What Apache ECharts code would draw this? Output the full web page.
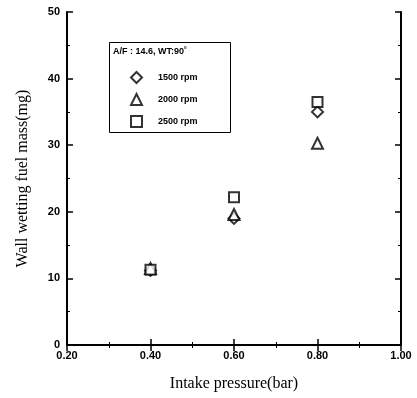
<!DOCTYPE html>
<html><head><meta charset="utf-8">
<script src="https://cdn.jsdelivr.net/npm/echarts@6/dist/echarts.min.js"></script>
<style>html,body{margin:0;padding:0;background:#fff}#c{width:417px;height:398px}</style>
</head><body><div id="c"></div>
<script>
const pressures = [0.40, 0.60, 0.80];
const rpm1500 = [11.2, 19.0, 35.0];
const rpm2000 = [11.5, 19.6, 30.3];
const rpm2500 = [11.3, 22.2, 36.5];
const seriesNames = ['1500 rpm', '2000 rpm', '2500 rpm'];
const legendTitle = 'A/F : 14.6, WT:90\u02DA';
const xTitle = 'Intake pressure(bar)';
const yTitle = 'Wall wetting fuel mass(mg)';

const chart = echarts.init(document.getElementById('c'));
const mk = (name, vals, sym, size) => ({
  name, type: 'scatter', symbol: sym, symbolSize: size,
  data: pressures.map((p, i) => [p, vals[i]]),
  itemStyle: {color: '#fff', borderColor: '#000', borderWidth: 2}
});
const axisCommon = {
  axisLine: {show: true, lineStyle: {color: '#000', width: 2}},
  axisTick: {show: true, inside: true, length: 6, lineStyle: {color: '#000', width: 1.5}},
  minorTick: {show: true, splitNumber: 2, length: 3, lineStyle: {color: '#000', width: 1}},
  splitLine: {show: false}
};
chart.setOption({
  animation: false,
  grid: {left: 67, right: 16, top: 12, bottom: 53},
  xAxis: [
    Object.assign({type: 'value', min: 0.2, max: 1.0, interval: 0.2, position: 'bottom',
      name: xTitle, nameLocation: 'middle', nameGap: 31,
      nameTextStyle: {fontFamily: 'Liberation Serif', fontSize: 16, color: '#000'},
      axisLabel: {formatter: v => v.toFixed(2), fontFamily: 'Liberation Sans', fontSize: 11, fontWeight: 'bold', color: '#000', margin: 5}
    }, axisCommon),
    Object.assign({type: 'value', min: 0.2, max: 1.0, interval: 0.2, position: 'top', axisLabel: {show: false}}, axisCommon)
  ],
  yAxis: [
    Object.assign({type: 'value', min: 0, max: 50, interval: 10, position: 'left',
      name: yTitle, nameLocation: 'middle', nameGap: 36,
      nameTextStyle: {fontFamily: 'Liberation Serif', fontSize: 16, color: '#000'},
      axisLabel: {fontFamily: 'Liberation Sans', fontSize: 11, fontWeight: 'bold', color: '#000', margin: 7}
    }, axisCommon),
    Object.assign({type: 'value', min: 0, max: 50, interval: 10, position: 'right', axisLabel: {show: false}}, axisCommon)
  ],
  legend: {
    data: seriesNames, orient: 'vertical', left: 125, top: 66, itemGap: 9,
    itemWidth: 11, itemHeight: 11,
    textStyle: {fontFamily: 'Liberation Sans', fontSize: 9, fontWeight: 'bold', color: '#000', padding: [0, 0, 0, 11]}
  },
  graphic: [
    {type: 'rect', left: 107, top: 40, shape: {width: 121, height: 90}, style: {fill: 'none', stroke: '#000', lineWidth: 1}},
    {type: 'text', left: 113, top: 47, style: {text: legendTitle, font: 'bold 9px "Liberation Sans"', fill: '#000'}}
  ],
  series: [
    mk(seriesNames[0], rpm1500, 'diamond', 11),
    mk(seriesNames[1], rpm2000, 'triangle', 11),
    mk(seriesNames[2], rpm2500, 'rect', 10)
  ]
});
</script></body></html>
